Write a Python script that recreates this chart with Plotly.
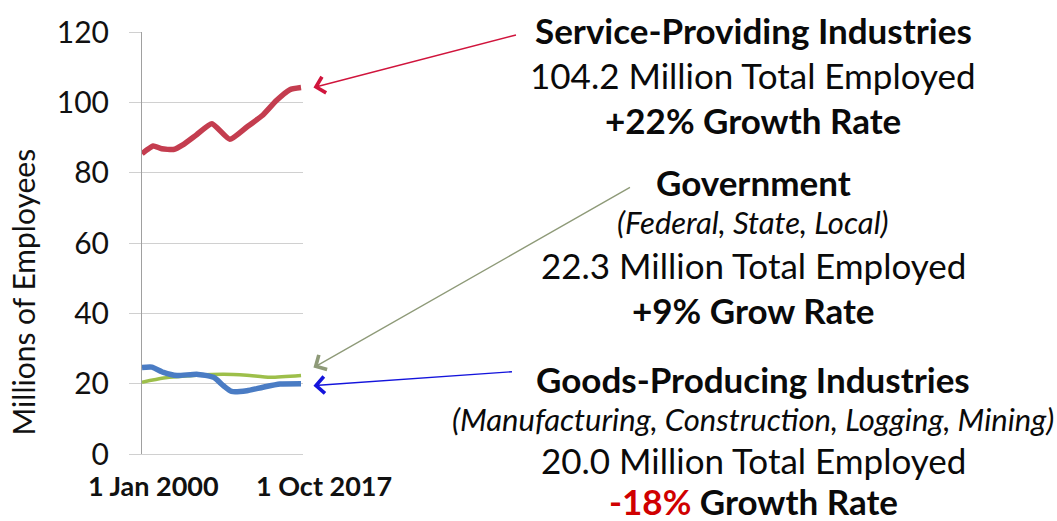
import plotly.graph_objects as go

# Employment by sector, millions of employees (Jan 2000 - Oct 2017)
service_years = [2000.0, 2000.6, 2001.25, 2002.2, 2003.5, 2004.6, 2006.1, 2007.8,
                 2009.8, 2011.7, 2013.5, 2015.0, 2016.5, 2017.75]
service_vals = [85.4, 86.6, 87.6, 86.8, 86.6, 88.0, 90.8, 93.9,
                89.5, 93.0, 96.4, 100.5, 103.6, 104.2]

goods_years = [2000.0, 2001.1, 2002.4, 2003.9, 2006.1, 2008.0, 2009.1, 2010.0,
               2011.7, 2013.5, 2015.4, 2017.75]
goods_vals = [24.6, 24.7, 23.2, 22.3, 22.7, 21.8, 19.4, 17.8,
              18.0, 19.0, 19.9, 20.0]

gov_years = [2000.0, 2002.4, 2006.1, 2009.1, 2011.7, 2014.3, 2017.75]
gov_vals = [20.4, 21.6, 22.4, 22.7, 22.4, 21.8, 22.3]

x_tick_years = [2000.0, 2017.75]
x_tick_labels = ["1 Jan 2000", "1 Oct 2017"]
y_title = "Millions of Employees"

FONT = "Lato"
RED = "#C43D4F"
BLUE = "#4A7CC4"
GREEN = "#9DBF4A"

fig = go.Figure()
fig.add_trace(go.Scatter(x=service_years, y=service_vals, mode="lines",
                         line=dict(color=RED, width=5.5, shape="spline", smoothing=0.5)))
fig.add_trace(go.Scatter(x=gov_years, y=gov_vals, mode="lines",
                         line=dict(color=GREEN, width=3.5, shape="spline", smoothing=0.6)))
fig.add_trace(go.Scatter(x=goods_years, y=goods_vals, mode="lines",
                         line=dict(color=BLUE, width=5.5, shape="spline", smoothing=0.5)))

L, R, T, B = 142, 754, 28, 67
W, H = 1057, 521
pw, ph = W - L - R, H - T - B

annotations = []

# category labels under the axis
for yr, lab, shift in zip(x_tick_years, x_tick_labels, [11, 23]):
    annotations.append(dict(x=yr, y=0, xref="x", yref="y", text=f"<b>{lab}</b>",
                            showarrow=False, xshift=shift, yshift=-31,
                            font=dict(family=FONT, size=27, color="#111"),
                            xanchor="center", yanchor="middle"))

# vertical axis title, sitting a little below the plot centre
annotations.append(dict(x=(23 - L) / pw, y=(H - B - 291) / ph, xref="paper", yref="paper",
                        text=y_title, textangle=-90, showarrow=False,
                        xanchor="center", yanchor="middle",
                        font=dict(family=FONT, size=30, color="#111")))

# arrows from the labels to the series ends
arrows = [
    (service_vals[-1], 204, -53, "#D0143C", 0),
    (gov_vals[-1], 318, -181, "#8E9A78", 8),
    (goods_vals[-1], 200, -14, "#1414DC", -2),
]
for yv, ax, ay, col, ysh in arrows:
    annotations.append(dict(x=1.065, y=yv, xref="paper", yref="y", text="",
                            showarrow=True, arrowhead=4, arrowsize=2.3, arrowwidth=1.4,
                            arrowcolor=col, ax=ax, ay=ay, yshift=ysh))

# right-hand text blocks: (text, pixel y centre, size)
text_lines = [
    ("<b>Service-Providing Industries</b>", 26, 35),
    ("104.2 Million Total Employed", 71, 35),
    ("<b>+22% Growth Rate</b>", 117, 35),
    ("<b>Government</b>", 179, 35),
    ("<i>(Federal, State, Local)</i>", 220, 31),
    ("22.3 Million Total Employed", 263, 35),
    ("<b>+9% Grow Rate</b>", 309, 35),
    ("<b>Goods-Producing Industries</b>", 378, 35),
    ("<i>(Manufacturing, Construction, Logging, Mining)</i>", 419, 31),
    ("20.0 Million Total Employed", 460, 35),
    ("<b><span style='color:#D00000'>-18%</span> Growth Rate</b>", 501, 35),
]

cx = 753
for txt, py, sz in text_lines:
    annotations.append(dict(x=(cx - L) / pw, y=(H - B - py) / ph, xref="paper", yref="paper",
                            text=txt, showarrow=False, xanchor="center", yanchor="middle",
                            font=dict(family=FONT, size=sz, color="#0A0A0A")))

fig.update_layout(
    width=W, height=H,
    margin=dict(l=L, r=R, t=T, b=B),
    paper_bgcolor="white", plot_bgcolor="white",
    showlegend=False,
    annotations=annotations,
    font=dict(family=FONT, color="#111"),
)
fig.update_xaxes(range=[2000.0, 2017.97], showgrid=False, zeroline=False,
                 showticklabels=False, ticks="", showline=True, linecolor="#D0D0D0",
                 linewidth=1)
fig.update_yaxes(range=[0, 120], dtick=20, showgrid=True, gridcolor="#D0D0D0", gridwidth=1,
                 zeroline=False, showline=True, linecolor="#A0A0A0", linewidth=1,
                 ticks="outside", ticklen=12, tickcolor="#D0D0D0", ticklabelstandoff=14,
                 tickfont=dict(family=FONT, size=30, color="#111"))

fig.write_html("out.html")
